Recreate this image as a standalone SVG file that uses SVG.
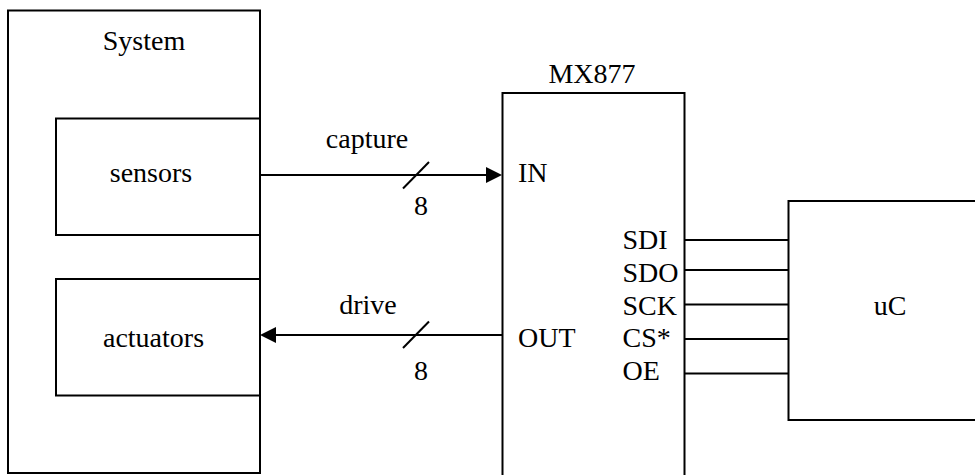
<svg xmlns="http://www.w3.org/2000/svg" width="975" height="475" viewBox="0 0 975 475">
<style>
.box{fill:none;stroke:#000;stroke-width:2}
.w{stroke:#000;stroke-width:2;fill:none}
.c{text-anchor:middle}
</style>
<defs>
<marker id="arr" viewBox="0 0 16 16" refX="0" refY="8" markerWidth="16" markerHeight="16" markerUnits="userSpaceOnUse" orient="auto">
<path d="M0,0 L16,8 L0,16 z" fill="#000"/>
</marker>
</defs>
<rect width="975" height="475" fill="#fff"/>
<g font-family="'Liberation Serif', 'Times New Roman', serif" font-size="28" fill="#000">
<g id="system">
<rect class="box" x="8" y="10.5" width="252" height="462.5"/>
<text class="c" x="144" y="50">System</text>
</g>
<g id="sensors">
<rect class="box" x="56" y="118.5" width="204" height="116.5"/>
<text class="c" x="151" y="182">sensors</text>
</g>
<g id="actuators">
<rect class="box" x="56" y="279" width="204" height="116.5"/>
<text class="c" x="153.5" y="347">actuators</text>
</g>
<g id="mx877">
<rect class="box" x="502.5" y="93" width="182" height="400"/>
<text class="c" x="592" y="83">MX877</text>
<text x="518" y="182">IN</text>
<text x="518" y="347">OUT</text>
<text x="622.5" y="248.5">SDI</text>
<text x="622.5" y="281.5">SDO</text>
<text x="622.5" y="315">SCK</text>
<text x="622.5" y="347">CS*</text>
<text x="622.5" y="380">OE</text>
</g>
<g id="uc">
<rect class="box" x="788.5" y="201" width="200" height="219"/>
<text class="c" x="890" y="315">uC</text>
</g>
<g id="connectors">
<line class="w" x1="260" y1="175" x2="486" y2="175" marker-end="url(#arr)"/>
<line class="w" x1="403" y1="188.5" x2="429" y2="162"/>
<text class="c" x="367" y="148">capture</text>
<text class="c" x="421" y="215">8</text>
<line class="w" x1="502.5" y1="335" x2="276" y2="335" marker-end="url(#arr)"/>
<line class="w" x1="403" y1="348" x2="429" y2="321.5"/>
<text class="c" x="368" y="314">drive</text>
<text class="c" x="421" y="380">8</text>
<line class="w" x1="684.5" y1="240" x2="788.5" y2="240"/>
<line class="w" x1="684.5" y1="270" x2="788.5" y2="270"/>
<line class="w" x1="684.5" y1="304.5" x2="788.5" y2="304.5"/>
<line class="w" x1="684.5" y1="339" x2="788.5" y2="339"/>
<line class="w" x1="684.5" y1="373.5" x2="788.5" y2="373.5"/>
</g>
</g>
</svg>
